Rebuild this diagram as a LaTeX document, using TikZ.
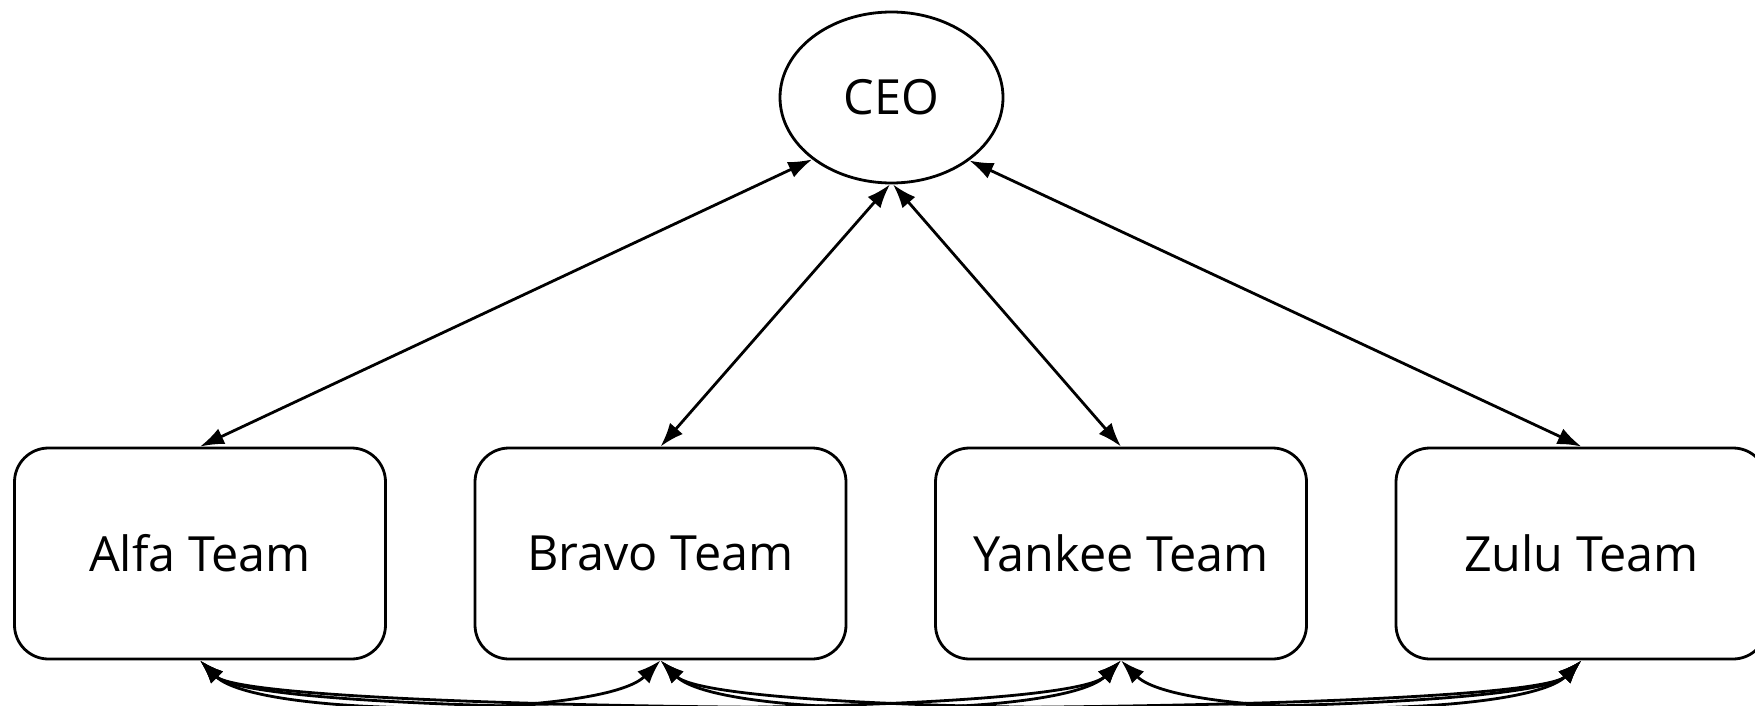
\documentclass[tikz,border=0pt]{standalone}
\usepackage{fontspec}
\setmainfont{Open Sans}
\usetikzlibrary{arrows.meta,shapes.geometric}
\begin{document}
\begin{tikzpicture}[x=1pt,y=-1pt,
  every node/.style={font=\fontsize{48.5}{56}\selectfont},
  teambox/.style={draw, line width=2.8pt, rounded corners=34pt, minimum width=371pt, minimum height=211pt, inner sep=0pt},
  ceonode/.style={draw, ellipse, line width=2.8pt, minimum width=223pt, minimum height=171pt, inner sep=0pt},
  arrowtip/.tip={Latex[length=24pt,width=17pt]},
  link/.style={line width=2.8pt, arrowtip-arrowtip}
]
\useasboundingbox (0,0) rectangle (1755,706);
\node[ceonode] (ceo) at (891.5,97.5) {CEO};
\node[teambox] (a) at (200,553.5) {Alfa Team};
\node[teambox] (b) at (660.5,553.5) {Bravo Team};
\node[teambox] (y) at (1121,553.5) {Yankee Team};
\node[teambox] (z) at (1581.5,553.5) {Zulu Team};
% CEO links
\draw[link] (ceo.218) -- (a.north);
\draw[link] (ceo.269) -- (b.north);
\draw[link] (ceo.271) -- (y.north);
\draw[link] (ceo.321) -- (z.north);
% bottom links
\draw[link] (a.south) .. controls +(58,58) and +(-58,58) .. (b.south);
\draw[link] (a.south) .. controls +(58,58) and +(-58,58) .. (y.south);
\draw[link] (a.south) .. controls +(58,58) and +(-58,58) .. (z.south);
\draw[link] (b.south) .. controls +(58,58) and +(-58,58) .. (y.south);
\draw[link] (b.south) .. controls +(58,58) and +(-58,58) .. (z.south);
\draw[link] (y.south) .. controls +(58,58) and +(-58,58) .. (z.south);
\end{tikzpicture}
\end{document}
